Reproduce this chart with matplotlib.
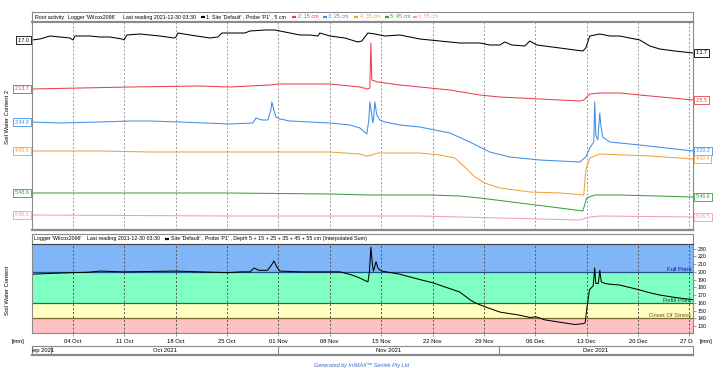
import matplotlib
matplotlib.use("Agg")
import matplotlib.pyplot as plt
from matplotlib.transforms import Bbox, TransformedBbox
from datetime import datetime, timedelta

plt.rcParams['font.family'] = ['Liberation Sans', 'DejaVu Sans']

# ---------------- data ----------------
ORIGIN = datetime(2021, 10, 1)          # day 0 of the day offsets below
XMIN = datetime(2021, 9, 28, 10)
XMAX = datetime(2021, 12, 27, 12)

# top panel: stacked sensor traces (display position, arbitrary units)
blk_days = [-2.59, -1.50, -0.14, 1.23, 2.59, 3.00, 3.27, 5.31, 6.68, 8.04, 9.67, 9.95, 10.35, 12.13,
            13.49, 14.85, 16.76, 17.03, 17.30, 18.94, 21.66, 22.75, 23.30, 26.43, 27.11, 29.16, 30.52,
            32.56, 33.92, 35.29, 36.38, 36.65, 38.01, 40.05, 41.83, 42.37, 43.19, 44.14, 45.50, 47.55,
            50.27, 52.99, 55.72, 58.45, 59.81, 61.17, 61.85, 62.81, 64.58, 65.26, 66.21, 69.35, 71.39,
            72.48, 72.89, 73.43, 74.80, 76.16, 77.52, 78.88, 80.25, 81.61, 82.97, 85.01, 87.5]
blk_vals = [190, 191, 194, 193, 192, 190, 194, 194, 193, 193, 191, 190, 195, 196, 195, 194, 192, 193,
            197, 195, 192, 193, 197, 197, 199, 200, 200, 197, 195, 195, 194, 197, 194, 192, 188, 189,
            197, 196, 194, 195, 191, 189, 187, 187, 185, 185, 188, 185, 184, 189, 185, 182, 180, 179,
            182, 194, 196, 194, 194, 192, 190, 184, 181, 179, 177]

red_days = [-2.59, 10.76, 20.30, 24.39, 29.84, 30.93, 38.01, 42.10, 43.19, 43.46, 43.60, 43.73, 44.55,
            47.55, 50.27, 54.36, 58.45, 61.17, 66.62, 72.07, 72.62, 73.02, 73.43, 74.80, 77.52, 80.25, 87.5]
red_vals = [141, 143, 144, 143, 145, 146, 146, 143, 141, 142, 187, 150, 148, 145, 143, 140, 135, 133,
            131, 129, 130, 133, 136, 137, 137, 135, 130]

blu_days = [-2.59, 1.23, 6.68, 10.76, 13.49, 17.57, 24.39, 27.52, 27.93, 28.75, 29.56, 29.97, 30.11,
            30.38, 30.65, 31.20, 32.56, 38.01, 40.74, 42.10, 43.05, 43.32, 43.46, 43.73, 43.87, 44.01,
            44.14, 44.41, 44.82, 45.50, 47.55, 50.27, 54.36, 57.08, 59.81, 62.53, 66.62, 72.07, 72.89,
            73.43, 73.98, 74.11, 74.25, 74.52, 74.80, 74.93, 75.20, 76.16, 80.25, 87.5]
blu_vals = [108, 107, 108, 109, 109, 108, 106, 107, 112, 110, 110, 120, 128, 120, 113, 111, 109, 107,
            105, 102, 96, 110, 128, 115, 107, 115, 128, 115, 110, 108, 105, 103, 97, 88, 78, 73, 70, 68,
            73, 82, 88, 128, 95, 90, 117, 105, 93, 88, 85, 79]

org_days = [-2.59, 6.68, 13.49, 24.39, 38.01, 42.10, 43.05, 43.73, 44.55, 50.27, 52.99, 55.04, 56.40,
            57.77, 59.13, 61.17, 65.26, 69.35, 72.62, 72.89, 73.43, 74.80, 81.61, 87.5]
org_vals = [79, 79, 78, 78, 78, 76, 74, 75, 77, 77, 75, 72, 63, 53, 47, 42, 38, 37, 35, 60, 72, 76, 74, 71]

grn_days = [-2.59, 24.39, 38.01, 43.46, 51.63, 55.72, 58.45, 63.90, 69.35, 72.48, 73.02, 74.11, 77.52, 87.5]
grn_vals = [37, 37, 36, 35, 35, 34, 32, 27, 22, 19, 32, 35, 35, 33]

pnk_days = [-2.59, 24.39, 50.27, 72.07, 73.43, 74.80, 87.5]
pnk_vals = [15, 14, 14, 10, 13, 14, 13]

start_labels = ["1:7.0", "2:13.7", "3:34.8", "4:45.5", "5:48.6", "6:45.5"]
end_labels = ["1:1.7", "2:5.5", "3:20.2", "4:42.4", "5:46.6", "6:45.5"]
legend_names = ["1: Site 'Default' , Probe 'P1' , 5 cm", "2: 15 cm", "3: 25 cm",
                "4: 35 cm", "5: 45 cm", "6: 55 cm"]

# bottom panel: interpolated sum (mm)
sum_days = [-2.6, 0.0, 3.0, 5.0, 6.7, 9.9, 13.5, 17.0, 20.3, 24.0, 26.0, 27.1, 27.7, 28.3, 29.5, 30.0,
            30.4, 30.8, 31.2, 34.0, 38.0, 39.4, 41.0, 42.1, 43.2, 43.4, 43.6, 43.8, 43.95, 44.3, 44.6,
            45.1, 47.5, 50.3, 52.0, 55.7, 57.1, 57.8, 59.1, 61.2, 63.9, 65.3, 66.1, 67.3, 69.3, 71.4,
            72.5, 72.8, 73.0, 73.2, 73.4, 73.9, 74.1, 74.25, 74.6, 74.8, 75.0, 75.5, 76.2, 77.5, 80.1,
            81.6, 83.0, 85.0, 87.5]
sum_mm = [197, 198, 199, 199.5, 201, 200, 200.5, 201, 200, 199, 200, 200, 205, 202, 202, 208, 214, 206,
          201, 200, 200, 200, 196, 192, 187, 200, 232, 210, 201, 213, 204, 201, 197, 190, 186, 174, 164,
          160, 155, 148, 144, 141, 142, 138, 135, 132, 133, 134, 150, 164, 177, 182, 205, 185, 185, 202,
          187, 185, 184, 183, 177, 173, 170, 167, 164]

full_point = 200
refill_point = 160
stress_point = 140
y_ticks = list(range(130, 231, 10))
week_ticks = [datetime(2021, 10, 4) + timedelta(days=7 * i) for i in range(13)]
months = [("Sep 2021", datetime(2021, 9, 1)), ("Oct 2021", datetime(2021, 10, 1)),
          ("Nov 2021", datetime(2021, 11, 1)), ("Dec 2021", datetime(2021, 12, 1))]

# ---------------- styles ----------------
W, H = 723, 368
colors = ['#000000', '#e8404c', '#3f8ee4', '#f0a23c', '#3e9e3e', '#f09ac8']
FS = 4.2
GRAY = '#8a8a8a'


def to_dates(days):
    return [ORIGIN + timedelta(days=float(d)) for d in days]


fig = plt.figure(figsize=(W / 100, H / 100), dpi=100)
fig.patch.set_facecolor('white')


def add_px_axes(l, t, r, b):
    return fig.add_axes([l / W, 1 - b / H, (r - l) / W, (b - t) / H])


L, R = 32, 693
ax_th = add_px_axes(L, 12, R, 22)
ax_t = add_px_axes(L, 22, R, 230)
ax_bh = add_px_axes(L, 234, R, 244)
ax_b = add_px_axes(L, 244, R, 333)
ax_m = add_px_axes(L, 346, R, 355)

for a in (ax_th, ax_t, ax_bh, ax_b, ax_m):
    for s in a.spines.values():
        s.set_color(GRAY)
        s.set_linewidth(0.8)

# ---- top header ----
ax_th.set_xlim(L, R)
ax_th.set_ylim(0, 1)
ax_th.set_xticks([])
ax_th.set_yticks([])
ax_th.spines['bottom'].set_linewidth(1.6)
hdr_fs = 3.8
ax_th.text(35, 0.5, "Root activity", fontsize=hdr_fs, va='center')
ax_th.text(68, 0.5, "Logger 'Wilcox2096'", fontsize=hdr_fs, va='center')
ax_th.text(123, 0.5, "Last reading 2021-12-30 03:30", fontsize=hdr_fs, va='center')
leg_x = [201, 292, 323, 354, 385, 413]
for i, (x, name) in enumerate(zip(leg_x, legend_names)):
    ax_th.plot([x, x + 3.5], [0.5, 0.5], color=colors[i], lw=1.6, solid_capstyle='butt')
    ax_th.text(x + 5.5, 0.5, name, fontsize=hdr_fs, va='center',
               color=colors[i] if i > 0 else 'black')

# ---- top panel ----
series = [(blk_days, blk_vals), (red_days, red_vals), (blu_days, blu_vals),
          (org_days, org_vals), (grn_days, grn_vals), (pnk_days, pnk_vals)]
for i, (d, v) in enumerate(series):
    ax_t.plot(to_dates(d), v, color=colors[i], lw=0.75)
    tcol = colors[i]
    ax_t.text(-0.004, v[0], start_labels[i], transform=ax_t.get_yaxis_transform(),
              ha='right', va='center', fontsize=3.8, color=tcol,
              bbox=dict(boxstyle='square,pad=0.25', fc='white', ec=tcol, lw=0.6))
    ax_t.text(1.004, v[-1], end_labels[i], transform=ax_t.get_yaxis_transform(),
              ha='left', va='center', fontsize=3.8, color=tcol,
              bbox=dict(boxstyle='square,pad=0.25', fc='white', ec=tcol, lw=0.6))
ax_t.set_xlim(XMIN, XMAX)
ax_t.set_ylim(0, 208)
ax_t.set_yticks([])
ax_t.set_xticks(week_ticks)
ax_t.set_xticklabels([])
ax_t.tick_params(axis='x', length=0)
ax_t.grid(axis='x', color='#9a9a9a', ls=(0, (2, 2)), lw=0.7)
ax_t.spines['bottom'].set_linewidth(1.6)

fig.text(8 / W, 1 - 117 / H, "Soil Water Content 2", rotation=90, ha='center', va='center', fontsize=FS)

# ---- bottom header ----
ax_bh.set_xlim(L, R)
ax_bh.set_ylim(0, 1)
ax_bh.set_xticks([])
ax_bh.set_yticks([])
ax_bh.text(34, 0.5, "Logger 'Wilcox2096'", fontsize=hdr_fs, va='center')
ax_bh.text(87, 0.5, "Last reading 2021-12-30 03:30", fontsize=hdr_fs, va='center')
ax_bh.plot([165, 168.5], [0.5, 0.5], color='black', lw=1.6, solid_capstyle='butt')
ax_bh.text(171, 0.5, "Site 'Default' , Probe 'P1' , Depth 5 + 15 + 25 + 35 + 45 + 55 cm (Interpolated Sum)",
           fontsize=hdr_fs, va='center')

# ---- bottom panel ----
YMIN, YMAX = 121, 236
ax_b.axhspan(YMIN, stress_point, color='#ffc2c2', lw=0)
ax_b.axhspan(stress_point, refill_point, color='#ffffc0', lw=0)
ax_b.axhspan(refill_point, full_point, color='#80ffc2', lw=0)
ax_b.axhspan(full_point, YMAX, color='#80b6f8', lw=0)
ax_b.axhline(full_point, color='#1f4f8f', lw=0.9)
ax_b.axhline(refill_point, color='#2f6a3f', lw=0.9)
ax_b.axhline(stress_point, color='#7c6a34', lw=0.9)
ax_b.plot(to_dates(sum_days), sum_mm, color='black', lw=0.75)
ax_b.set_xlim(XMIN, XMAX)
ax_b.set_ylim(YMIN, YMAX)
ax_b.spines['top'].set_color('#404040')
ax_b.yaxis.tick_right()
ax_b.set_yticks(y_ticks)
ax_b.tick_params(axis='y', labelsize=3.8, length=2, pad=1.5, color=GRAY, width=0.6)
ax_b.set_xticks(week_ticks)
ax_b.set_xticklabels([t.strftime('%d %b') for t in week_ticks])
ax_b.tick_params(axis='x', labelsize=FS, length=2, pad=2, color=GRAY, width=0.6)
ax_b.grid(axis='x', color='#555555', ls=(0, (2, 2)), lw=0.7)
clipbox = TransformedBbox(Bbox([[0, 0], [R / W, 1]]), fig.transFigure)
for lbl in ax_b.get_xticklabels():
    lbl.set_clip_box(clipbox)
    lbl.set_clip_on(True)

ax_b.text(0.997, full_point, "Full Point", transform=ax_b.get_yaxis_transform(), ha='right',
          va='bottom', fontsize=FS, color='#10108a')
ax_b.text(0.997, refill_point, "Refill Point", transform=ax_b.get_yaxis_transform(), ha='right',
          va='bottom', fontsize=FS, color='#0c5a20')
ax_b.text(0.997, stress_point, "Onset Of Stress", transform=ax_b.get_yaxis_transform(), ha='right',
          va='bottom', fontsize=FS, color='#6a5010')

fig.text(8 / W, 1 - 290 / H, "Soil Water Content", rotation=90, ha='center', va='center', fontsize=FS)
fig.text(18 / W, 1 - 341 / H, "[mm]", ha='center', va='center', fontsize=FS)
fig.text(700 / W, 1 - 341 / H, "[mm]", ha='left', va='center', fontsize=FS)

# ---- month strip ----
ax_m.set_xlim(XMIN, XMAX)
ax_m.set_ylim(0, 1)
ax_m.set_xticks([])
ax_m.set_yticks([])
ax_m.spines['bottom'].set_linewidth(1.6)
for j, (name, start) in enumerate(months):
    end = months[j + 1][1] if j + 1 < len(months) else datetime(2022, 1, 1)
    if start > XMIN:
        ax_m.axvline(start, color=GRAY, lw=0.8)
    vs, ve = max(start, XMIN), min(end, XMAX)
    mid = vs + (ve - vs) / 2
    ax_m.text(mid, 0.5, name, ha='center', va='center', fontsize=FS, clip_on=True)

fig.text(361 / W, 1 - 365 / H, "Generated by IrriMAX™ Sentek Pty Ltd", ha='center', va='center',
         fontsize=4, style='italic', color='#3a6cc8')

fig.savefig("out.png", dpi=100, facecolor='white')
